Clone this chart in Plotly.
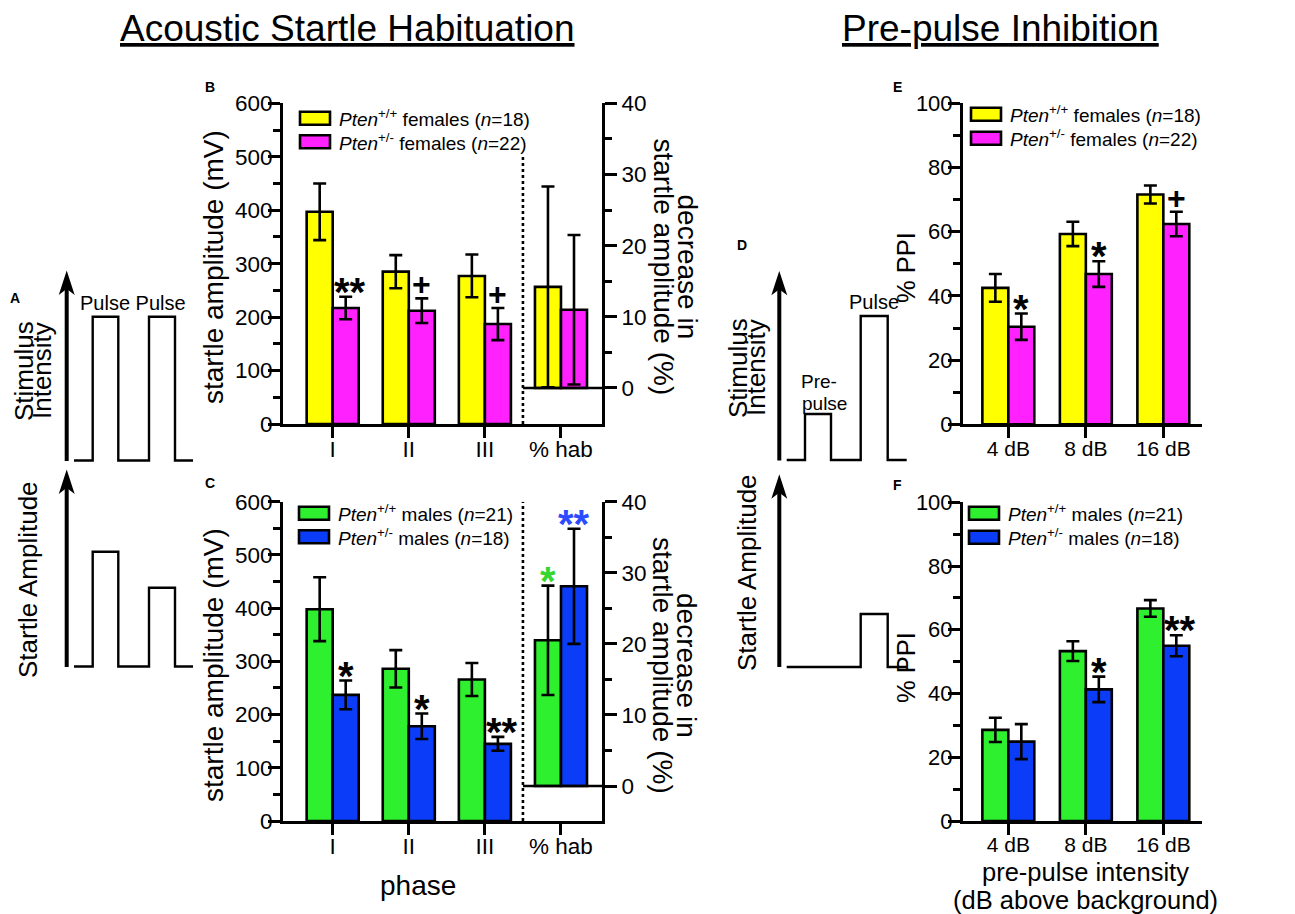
import plotly.graph_objects as go

# page geometry: the html body has an 8 px margin, so the figure is drawn
# 8 px in from the top-left corner of the 1295x914 window
OFF = 8
W, H = 1295 - OFF, 914 - OFF
FONT = "Liberation Sans, Arial, Helvetica, sans-serif"

# ---------------- data ----------------
phases = ["I", "II", "III"]
hab_label = "% hab"
ppi_levels = ["4 dB", "8 dB", "16 dB"]

# Panel B: females, startle amplitude (mV) and % habituation
fem_wt_amp = [397, 285, 277]
fem_wt_amp_err = [53, 31, 40]
fem_het_amp = [217, 212, 187]
fem_het_amp_err = [21, 23, 30]
fem_wt_hab = [14.2]
fem_wt_hab_err = [14.1]
fem_het_hab = [11.0]
fem_het_hab_err = [10.5]
fem_amp_sig = ["**", "+", "+"]

# Panel C: males
male_wt_amp = [398, 286, 266]
male_wt_amp_err = [60, 35, 31]
male_het_amp = [237, 178, 145]
male_het_amp_err = [27, 24, 13]
male_wt_hab = [20.5]
male_wt_hab_err = [7.7]
male_het_hab = [28.1]
male_het_hab_err = [8.1]
male_amp_sig = ["*", "*", "**"]
male_wt_hab_sig = "*"
male_het_hab_sig = "**"

# Panel E: females % PPI
fem_wt_ppi = [42.5, 59.3, 71.6]
fem_wt_ppi_err = [4.3, 3.8, 2.8]
fem_het_ppi = [30.4, 46.8, 62.4]
fem_het_ppi_err = [4.1, 4.0, 3.8]
fem_ppi_sig = ["*", "*", "+"]

# Panel F: males % PPI
male_wt_ppi = [28.6, 53.3, 66.7]
male_wt_ppi_err = [3.8, 3.1, 2.6]
male_het_ppi = [24.9, 41.3, 55.0]
male_het_ppi_err = [5.5, 4.0, 3.3]
male_ppi_sig = ["", "*", "**"]

legend_fem = ["<i>Pten</i><sup>+/+</sup> females (<i>n</i>=18)",
              "<i>Pten</i><sup>+/-</sup> females (<i>n</i>=22)"]
legend_male = ["<i>Pten</i><sup>+/+</sup> males (<i>n</i>=21)",
               "<i>Pten</i><sup>+/-</sup> males (<i>n</i>=18)"]

YELLOW, MAGENTA = "#FFFF00", "#FF22FF"
GREEN, BLUE = "#2EF02E", "#0B3CF8"
STAR_GREEN, STAR_BLUE = "#33D633", "#2B4BFF"

# ---------------- helpers ----------------
def px(x):
    return (x - OFF) / W

def py(y):
    return 1 - (y - OFF) / H

BW = 0.342   # bar width in category units (habituation panels)
BW2 = 0.335  # bar width (PPI panels)

fig = go.Figure()

def bars(x, y, err, color, xa, ya, offset, width):
    fig.add_trace(go.Bar(
        x=x, y=y, xaxis=xa, yaxis=ya, offset=offset, width=width,
        marker=dict(color=color, line=dict(color="black", width=2.6)),
        error_y=dict(type="data", array=err, visible=True, color="black",
                     thickness=2.6, width=6.5),
        showlegend=False, hoverinfo="skip"))

idx = list(range(len(phases)))
hab_x = [len(phases)]
pidx = list(range(len(ppi_levels)))

# B
bars(idx, fem_wt_amp, fem_wt_amp_err, YELLOW, "x", "y", -BW, BW)
bars(idx, fem_het_amp, fem_het_amp_err, MAGENTA, "x", "y", 0, BW)
bars(hab_x, fem_wt_hab, fem_wt_hab_err, YELLOW, "x", "y2", -BW, BW)
bars(hab_x, fem_het_hab, fem_het_hab_err, MAGENTA, "x", "y2", 0, BW)
# C
bars(idx, male_wt_amp, male_wt_amp_err, GREEN, "x2", "y3", -BW, BW)
bars(idx, male_het_amp, male_het_amp_err, BLUE, "x2", "y3", 0, BW)
bars(hab_x, male_wt_hab, male_wt_hab_err, GREEN, "x2", "y4", -BW, BW)
bars(hab_x, male_het_hab, male_het_hab_err, BLUE, "x2", "y4", 0, BW)
# E
bars(pidx, fem_wt_ppi, fem_wt_ppi_err, YELLOW, "x3", "y5", -BW2, BW2)
bars(pidx, fem_het_ppi, fem_het_ppi_err, MAGENTA, "x3", "y5", 0, BW2)
# F
bars(pidx, male_wt_ppi, male_wt_ppi_err, GREEN, "x4", "y6", -BW2, BW2)
bars(pidx, male_het_ppi, male_het_ppi_err, BLUE, "x4", "y6", 0, BW2)

AX = dict(showline=True, linecolor="black", linewidth=3, ticks="outside",
          tickcolor="black", tickwidth=3, showgrid=False, zeroline=False,
          fixedrange=True, color="black", automargin=False)

hab_range = [-0.653, 3.539]
ppi_range = [-0.585, 2.495]

def xax(domain, anchor, rng, vals, text, size):
    d = dict(AX)
    d.update(domain=domain, anchor=anchor, range=rng, tickmode="array",
             tickvals=vals, ticktext=text, ticklen=11, ticklabelstandoff=-8,
             tickfont=dict(size=size, family=FONT, color="black"))
    return d

def yax(domain, anchor, rng, dtick, minor_dtick, size):
    d = dict(AX)
    d.update(domain=domain, anchor=anchor, range=rng, dtick=dtick, tick0=0,
             ticklen=12, ticklabelstandoff=-9,
             tickfont=dict(size=size, family=FONT, color="black"),
             minor=dict(dtick=minor_dtick, tick0=0, ticks="outside", ticklen=7,
                        tickwidth=3, tickcolor="black"))
    return d

def yright(overlay, anchor, rng, size):
    d = dict(AX)
    d.update(overlaying=overlay, anchor=anchor, side="right", range=rng,
             tickmode="array", tickvals=[0, 10, 20, 30, 40], ticklen=12,
             tickfont=dict(size=size, family=FONT, color="black"),
             minor=dict(tickmode="array", tickvals=[5, 15, 25, 35], ticks="outside",
                        ticklen=7, tickwidth=3, tickcolor="black"))
    return d

xB = [px(283), px(602)]
xE = [px(963), px(1201.7)]
cats_hab = idx + hab_x
labels_hab = phases + [hab_label]

fig.update_layout(
    template="none",
    width=W, height=H, autosize=False,
    margin=dict(l=0, r=0, t=0, b=0, pad=0, autoexpand=False),
    paper_bgcolor="white", plot_bgcolor="white",
    font=dict(family=FONT, color="black"),
    showlegend=False, barmode="overlay",
    xaxis=xax(xB, "y", hab_range, cats_hab, labels_hab, 22.5),
    yaxis=yax([py(424), py(103.3)], "x", [0, 600], 100, 50, 22.5),
    yaxis2=yright("y", "x", [-5.06, 40], 22.5),
    xaxis2=xax(xB, "y3", hab_range, cats_hab, labels_hab, 22.5),
    yaxis3=yax([py(821), py(501.7)], "x2", [0, 600], 100, 50, 22.5),
    yaxis4=yright("y3", "x2", [-4.92, 40], 22.5),
    xaxis3=xax(xE, "y5", ppi_range, pidx, ppi_levels, 21),
    yaxis5=yax([py(424.3), py(103.3)], "x3", [0, 100], 20, 10, 22),
    xaxis4=xax(xE, "y6", ppi_range, pidx, ppi_levels, 21),
    yaxis6=yax([py(821), py(502.3)], "x4", [0, 100], 20, 10, 22),
)

shapes = []
annos = []

def text(x, y, s, size, angle=0, xanchor="center", yanchor="middle", bold=False, color="black"):
    annos.append(dict(x=px(x), y=py(y), xref="paper", yref="paper", text=s,
                      showarrow=False, textangle=angle, xanchor=xanchor, yanchor=yanchor,
                      font=dict(size=size, family=FONT, color=color,
                                weight="bold" if bold else "normal")))

# titles
text(347.5, 28, "<u>Acoustic Startle Habituation</u>", 37)
text(1000.5, 28, "<u>Pre-pulse Inhibition</u>", 37)

# panel letters
text(8, 298, "A", 14, bold=True, xanchor="left")
for lx, ly, l in [(210, 87, "B"), (210, 483, "C"),
                  (742, 245, "D"), (897, 87, "E"), (897, 485, "F")]:
    text(lx, ly, l, 14, bold=True)

# axis titles
text(213, 267, "startle amplitude (mV)", 28, angle=-90)
text(213, 665, "startle amplitude (mV)", 28, angle=-90)
for cy in (266.5, 665):
    text(663, cy, "startle amplitude (%)", 28, angle=90)
    text(687, cy, "decrease in", 28, angle=90)
text(418, 885, "phase", 28)
text(906, 268, "% PPI", 25.5, angle=-90)
text(906, 668, "% PPI", 25.5, angle=-90)
text(1085.5, 871.5, "pre-pulse intensity", 25.5)
text(1085.5, 900, "(dB above background)", 25.5)

# legends (swatch + label)
def legend(x0, ys, colors, labels):
    for yc, c, lab in zip(ys, colors, labels):
        shapes.append(dict(type="rect", xref="paper", yref="paper",
                           x0=px(x0), x1=px(x0 + 30), y0=py(yc - 6.5), y1=py(yc + 6.5),
                           fillcolor=c, line=dict(color="black", width=2.6)))
        text(x0 + 37, yc, lab, 19, xanchor="left")

legend(300, [118.3, 141.7], [YELLOW, MAGENTA], legend_fem)
legend(299, [513.3, 536.7], [GREEN, BLUE], legend_male)
legend(971, [114.3, 138.3], [YELLOW, MAGENTA], legend_fem)
legend(969, [513.3, 537.3], [GREEN, BLUE], legend_male)

# significance markers placed from data
def sig(xa, ya, xs, tops, labels, width, color="black", xshift2=4):
    for xv, tv, s in zip(xs, tops, labels):
        if not s:
            continue
        if s == "+":
            ysh, fs = 14, 32
        else:
            ysh, fs = 5, 40
        xsh = xshift2 if s == "**" else 0
        annos.append(dict(x=xv + width / 2, y=tv, xref=xa, yref=ya, text=s,
                          showarrow=False, yanchor="middle", xanchor="center",
                          yshift=ysh, xshift=xsh,
                          font=dict(size=fs, family=FONT, color=color, weight="bold")))

sig("x", "y", idx, [v + e for v, e in zip(fem_het_amp, fem_het_amp_err)], fem_amp_sig, BW)
sig("x2", "y3", idx, [v + e for v, e in zip(male_het_amp, male_het_amp_err)], male_amp_sig, BW)
sig("x2", "y4", [hab_x[0] - BW], [male_wt_hab[0] + male_wt_hab_err[0]], [male_wt_hab_sig], BW, STAR_GREEN)
sig("x2", "y4", hab_x, [male_het_hab[0] + male_het_hab_err[0]], [male_het_hab_sig], BW, STAR_BLUE, 0)
sig("x3", "y5", pidx, [v + e for v, e in zip(fem_het_ppi, fem_het_ppi_err)], fem_ppi_sig, BW2)
sig("x4", "y6", pidx, [v + e for v, e in zip(male_het_ppi, male_het_ppi_err)], male_ppi_sig, BW2)

# dotted separators and zero lines of the habituation axes
for xa, ya, ya2, top in [("x", "y", "y2", 500), ("x2", "y3", "y4", 600)]:
    shapes.append(dict(type="line", xref=xa, yref=ya, x0=2.5, x1=2.5, y0=0, y1=top,
                       line=dict(color="black", width=2.6, dash="dot")))
    shapes.append(dict(type="line", xref=xa, yref=ya2, x0=2.5, x1=hab_range[1], y0=0, y1=0,
                       line=dict(color="black", width=2.6)))

# schematics
def pathd(pts):
    return "M " + " L ".join(f"{px(x):.5f},{py(y):.5f}" for x, y in pts)

def poly(pts, width=2.4):
    shapes.append(dict(type="path", xref="paper", yref="paper", path=pathd(pts),
                       line=dict(color="black", width=width)))

def arrow(x, tip, bottom):
    shapes.append(dict(type="path", xref="paper", yref="paper",
                       path=pathd([(x, bottom), (x, tip + 12)]),
                       line=dict(color="black", width=4)))
    shapes.append(dict(type="path", xref="paper", yref="paper",
                       path=pathd([(x, tip), (x - 6.5, tip + 20), (x, tip + 15), (x + 6.5, tip + 20)]) + " Z",
                       fillcolor="black", line=dict(color="black", width=1.5)))

# A
arrow(66.7, 273, 461)
poly([(74, 460.5), (92.7, 460.5), (92.7, 316.7), (118.3, 316.7), (118.3, 460.5), (149, 460.5),
      (149, 316.7), (175, 316.7), (175, 460.5), (193, 460.5)])
arrow(66.7, 472, 667)
poly([(74, 666.5), (92.7, 666.5), (92.7, 551.7), (118.3, 551.7), (118.3, 666.5), (149, 666.5),
      (149, 587.7), (175, 587.7), (175, 666.5), (193, 666.5)])
text(132.5, 303, "Pulse Pulse", 20)
text(24, 371, "Stimulus", 26, angle=-90)
text(42, 371, "Intensity", 26, angle=-90)
text(28, 580, "Startle Amplitude", 26, angle=-90)

# D
arrow(779.3, 273.3, 460.5)
poly([(786.7, 460), (805, 460), (805, 414), (831, 414), (831, 460), (860.7, 460),
      (860.7, 316), (887.7, 316), (887.7, 460), (906.7, 460)])
arrow(779.3, 476.7, 667)
poly([(786.7, 667), (860.7, 667), (860.7, 614), (887.7, 614), (887.7, 667), (906.7, 667)])
text(874, 302, "Pulse", 20)
text(799, 381.5, "Pre-", 19, xanchor="left")
text(800, 403.5, "pulse", 19, xanchor="left")
text(738, 368, "Stimulus", 26, angle=-90)
text(756, 368, "Intensity", 26, angle=-90)
text(747, 572, "Startle Amplitude", 26, angle=-90)

fig.update_layout(shapes=shapes, annotations=annos)
fig.write_html("out.html")
